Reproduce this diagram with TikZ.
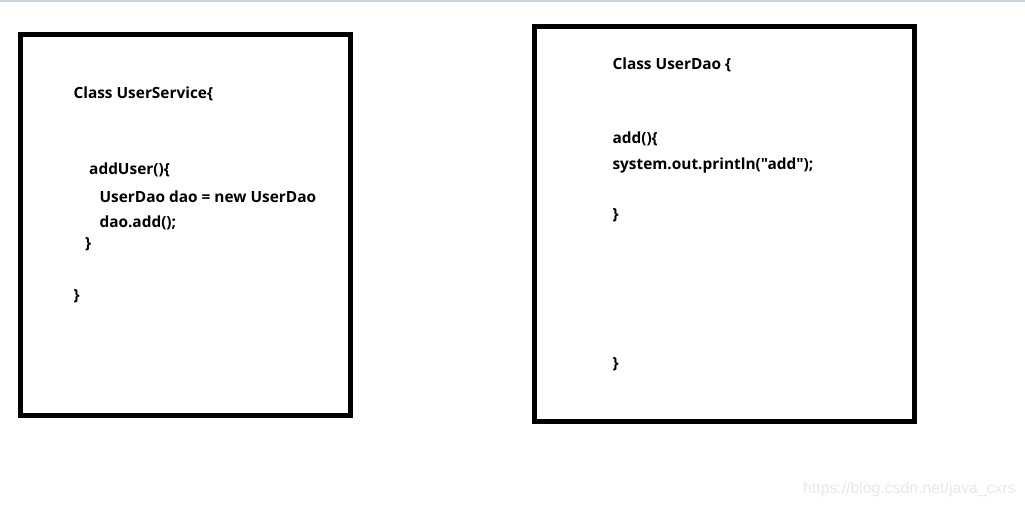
\documentclass[tikz,border=0pt]{standalone}
\usepackage{fontspec}
\newfontfamily\codefont{Open Sans}[BoldFont={Open Sans Bold}]
\newfontfamily\wmfont{Liberation Sans}
\definecolor{topline}{HTML}{C8D3E3}
\definecolor{wm}{HTML}{E8E8E8}
\tikzset{
  box/.style={draw=black,line width=5pt},
  code/.style={anchor=base west,inner sep=0pt,font=\codefont\fontsize{15.4}{18}\selectfont\bfseries},
}
\begin{document}
\begin{tikzpicture}[x=1pt,y=-1pt]
\useasboundingbox[fill=white] (0,0) rectangle (1025,507);
\draw[topline,line width=2pt] (0,1) -- (1025,1);
% left box
\draw[box] (20,34.5) rectangle (350,415.5);
\node[code] (l1) at (73.3,98.5) {Class UserService\{};
\node[code] (l2) at (89,174) {addUser()\{};
\node[code] (l3) at (99.3,202.5) {UserDao dao = new UserDao};
\node[code] (l4) at (99.3,227.5) {dao.add();};
\node[code] (l5) at (85,248) {\}};
\node[code] (l6) at (73.3,300) {\}};
% right box
\draw[box] (534.5,26.5) rectangle (914.5,421.5);
\node[code] (r1) at (612.3,69) {Class UserDao \{};
\node[code] (r2) at (612.3,143.5) {add()\{};
\node[code] (r3) at (612.3,169.5) {system.out.println("add");};
\node[code] (r4) at (612.3,219) {\}};
\node[code] (r5) at (612.3,368) {\}};
% watermark
\node[anchor=base west,inner sep=0pt,text=wm,font=\wmfont\fontsize{15.8}{18}\selectfont] (wm) at (803,493) {https://blog.csdn.net/java\_cxrs};
\end{tikzpicture}
\end{document}
